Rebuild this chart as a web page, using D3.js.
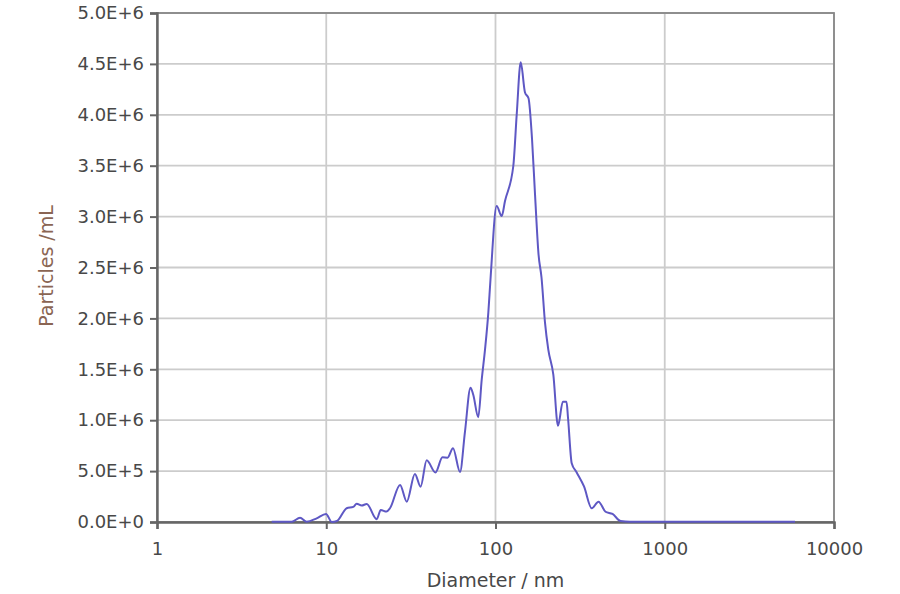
<html>
<head>
  <style>
    body { margin: 0; background: #fff; }
    svg text { font-family: "DejaVu Sans", Verdana, sans-serif; }
  </style>
  <script src="https://d3js.org/d3.v7.min.js"></script>
</head>
<body>
<div id="chart"></div>
<script type="text/javascript">
  // particle size distribution
  var diameters = [4.76, 6.25, 7.0, 7.66, 8.78, 9.97, 10.77, 11.57, 13.2, 14.45, 15.13, 16.2, 17.34,
    19.87, 21.0, 22.7, 23.8, 27.3, 29.9, 33.4, 36.1, 39.2, 44.2, 48.6, 52.1, 56.1, 61.7, 66.0,
    71.2, 73.9, 79.1, 82.9, 86.7, 90.7, 93.4, 101.6, 108.8, 113.8, 127.4, 133.5, 140.9, 149.4,
    156.7, 164.4, 171.2, 179.6, 187.0, 196.1, 205.1, 219.6, 234.0, 250.0, 262.8, 268.2, 282.0,
    301.8, 333.4, 370.2, 406.1, 446.7, 491.3, 547.8, 623.4, 5884];
  var particles = [3000, 3000, 42000, 3000, 36000, 79000, 1000, 10000, 135000, 148000, 180000, 162000, 177000,
    28000, 118000, 102000, 135000, 364000, 200000, 472000, 347000, 607000, 487000, 635000, 632000, 725000, 492000, 886000,
    1319000, 1250000, 1029000, 1398000, 1693000, 2057000, 2382000, 3103000, 3005000, 3153000, 3497000, 4006000, 4515000, 4219000,
    4163000, 3760000, 3218000, 2628000, 2402000, 1959000, 1693000, 1447000, 945000, 1181000, 1181000, 1024000, 578000,
    487000, 349000, 135000, 200000, 101000, 79000, 10000, 3000, 3000];
  var xTicks = [1, 10, 100, 1000, 10000];
  var yTicks = [0, 5e5, 1e6, 1.5e6, 2e6, 2.5e6, 3e6, 3.5e6, 4e6, 4.5e6, 5e6];
  var yTickLabels = ["0.0E+0", "5.0E+5", "1.0E+6", "1.5E+6", "2.0E+6", "2.5E+6",
    "3.0E+6", "3.5E+6", "4.0E+6", "4.5E+6", "5.0E+6"];

  var W = 900, H = 594;
  var margin = {top: 13, right: 66, bottom: 72, left: 157};
  var w = W - margin.left - margin.right;
  var h = H - margin.top - margin.bottom;

  var svg = d3.select("#chart").append("svg")
      .attr("width", W)
      .attr("height", H);
  var g = svg.append("g")
      .attr("transform", "translate(" + margin.left + "," + margin.top + ")");

  var x = d3.scaleLog().domain([1, 10000]).range([0, w]);
  var y = d3.scaleLinear().domain([0, 5e6]).range([h, 0]);

  /* grid */
  g.selectAll(".hgrid").data(yTicks.slice(1)).enter().append("line")
      .attr("x1", 0).attr("x2", w)
      .attr("y1", function(d) { return y(d); })
      .attr("y2", function(d) { return y(d); })
      .attr("stroke", "#cccccc").attr("stroke-width", 1.8);
  g.selectAll(".vgrid").data(xTicks.slice(1)).enter().append("line")
      .attr("x1", function(d) { return x(d); })
      .attr("x2", function(d) { return x(d); })
      .attr("y1", 0).attr("y2", h)
      .attr("stroke", "#cccccc").attr("stroke-width", 1.8);

  /* frame */
  g.append("rect").attr("x", 0).attr("y", 0).attr("width", w).attr("height", h)
      .attr("fill", "none").attr("stroke", "#888").attr("stroke-width", 1.8);

  /* axes */
  var yAxis = d3.axisLeft(y).tickValues(yTicks).tickSize(7).tickPadding(6)
      .tickFormat(function(d, i) { return yTickLabels[i]; });
  var yG = g.append("g").call(yAxis);
  var xAxis = d3.axisBottom(x).tickValues(xTicks).tickSize(7).tickPadding(13)
      .tickFormat(d3.format("d"));
  var xG = g.append("g").attr("transform", "translate(0," + h + ")").call(xAxis);

  [yG, xG].forEach(function(a) {
    a.select(".domain").attr("stroke", "#666").attr("stroke-width", 2.4);
    a.selectAll(".tick line").attr("stroke", "#666").attr("stroke-width", 2);
    a.selectAll(".tick text").attr("fill", "#484848").style("font-size", "18px");
  });

  /* the curve */
  var pts = diameters.map(function(d, i) { return [d, particles[i]]; });
  var line = d3.line()
      .x(function(d) { return x(d[0]); })
      .y(function(d) { return y(d[1]); })
      .curve(d3.curveMonotoneX);
  g.append("path").datum(pts)
      .attr("d", line)
      .attr("fill", "none")
      .attr("stroke", "#5e58c4")
      .attr("stroke-width", 2);

  /* titles */
  svg.append("text")
      .attr("x", margin.left + x(100))
      .attr("y", 587)
      .attr("text-anchor", "middle")
      .attr("fill", "#484848")
      .style("font-size", "19px")
      .text("Diameter / nm");
  svg.append("text")
      .attr("transform", "translate(53,266) rotate(-90)")
      .attr("text-anchor", "middle")
      .attr("fill", "#8a6553")
      .style("font-size", "19px")
      .text("Particles /mL");
</script>
</body>
</html>
